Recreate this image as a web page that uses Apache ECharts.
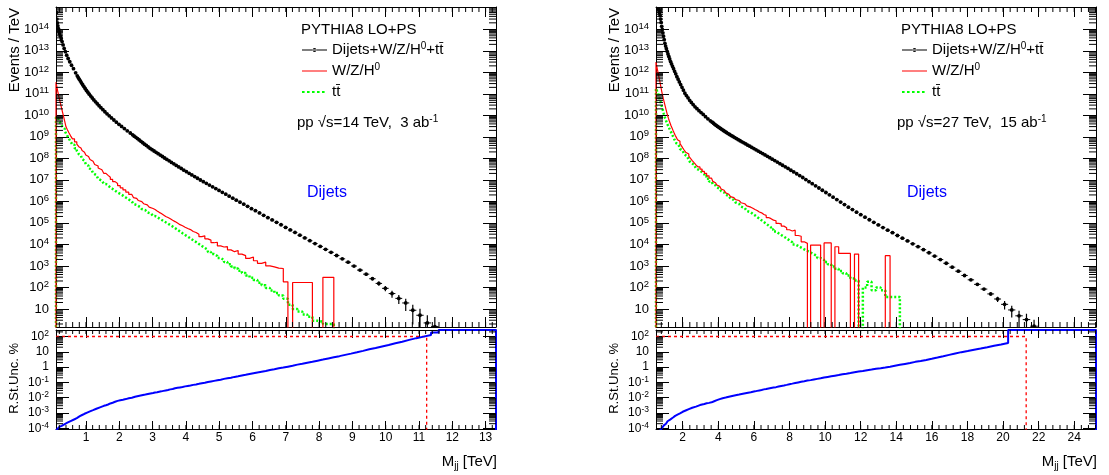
<!DOCTYPE html>
<html>
<head>
<meta charset="utf-8">
<title>Dijet invariant mass spectra</title>
<script src="https://cdn.jsdelivr.net/npm/echarts@6.0.0/dist/echarts.min.js"></script>
<style>
html, body { margin: 0; padding: 0; background: #fff; }
#chart { width: 1109px; height: 475px; }
</style>
</head>
<body>
<div id="chart"></div>
<script>
// ======================= DATA =======================
// Histograms use logarithmic bins (edge ratio 1.02). At low mass, where single
// bins are far below one pixel, several fine bins are read together.
// Binning definition: [first edge (TeV), edge ratio, [[fine bins, fine bins per drawn bin], ...]]
const binning14 = [0.1, 1.02, [[100, 5], [60, 2], [87, 1]]];
const binning27 = [0.5, 1.02, [[100, 2], [98, 1]]];

// ---- pp, sqrt(s)=14 TeV, 3 ab^-1 ----  (Events / TeV, one value per bin, from the first bin on)
const dijet14 = [1.3e15,6.0e14,3.0e14,2.0e14,1.45e14,1.08e14,8.05e13,6.2e13,4.8e13,3.66e13,2.7e13,1.88e13,1.3e13,9.1e12,6.3e12,4.4e12,3.1e12,2.14e12,1.48e12,9.5e11,
6.9e11,5.7e11,4.75e11,3.93e11,3.23e11,2.65e11,2.17e11,1.77e11,1.45e11,1.19e11,9.7e10,7.9e10,6.4e10,5.2e10,4.26e10,3.46e10,2.8e10,2.27e10,1.83e10,1.47e10,1.18e10,9.5e9,7.6e9,6.1e9,4.84e9,3.85e9,3.06e9,2.43e9,1.91e9,1.51e9,
1.24e9,1.08e9,9.5e8,8.3e8,7.2e8,6.2e8,5.4e8,4.6e8,4.0e8,3.4e8,2.9e8,2.54e8,2.2e8,1.91e8,1.65e8,1.42e8,1.22e8,1.04e8,8.9e7,7.7e7,
6.5e7,5.6e7,4.7e7,4.0e7,3.4e7,2.84e7,2.4e7,2.02e7,1.7e7,1.43e7,1.19e7,9.9e6,8.3e6,6.9e6,5.75e6,4.77e6,3.94e6,3.23e6,2.65e6,2.16e6,
1.75e6,1.42e6,1.14e6,9.2e5,7.4e5,5.9e5,4.6e5,3.7e5,2.9e5,2.25e5,1.76e5,1.37e5,1.07e5,8.2e4,6.2e4,4.7e4,3.6e4,2.68e4,2.0e4,1.49e4,
1.1e4,8.1e3,5.9e3,4.3e3,3.05e3,2.14e3,1.49e3,990,640,415,255,154,91,52,31,19,8.7,5.1,2.24,1.51];
// statistical error bars of the last dijet points (Events / TeV)
const dijetTailErr14 = [160,135,113,92,74,60,45,34,25,19,14,11,6.8,5.0,2.8,2.7];
const wzh14 = [3.5e11,2.8e11,2.24e11,1.78e11,1.38e11,1.07e11,7.9e10,6.0e10,4.4e10,3.1e10,2.1e10,1.38e10,8.7e9,5.2e9,2.95e9,2.14e9,1.55e9,1.12e9,8.1e8,5.9e8,
4.6e8,4.0e8,3.5e8,3.0e8,2.6e8,2.3e8,1.95e8,1.66e8,1.45e8,1.23e8,1.05e8,8.9e7,7.4e7,6.3e7,5.2e7,4.4e7,3.55e7,2.95e7,2.45e7,2.0e7,1.62e7,1.32e7,1.05e7,8.3e6,6.8e6,5.4e6,4.3e6,3.4e6,2.7e6,2.1e6,
1.7e6,1.51e6,1.38e6,1.23e6,1.1e6,9.8e5,8.7e5,7.8e5,6.9e5,6.0e5,5.4e5,4.7e5,4.2e5,3.6e5,3.1e5,2.75e5,2.35e5,2.0e5,1.78e5,1.55e5,
1.32e5,1.15e5,9.8e4,8.3e4,7.4e4,6.3e4,5.5e4,4.9e4,4.0e4,3.6e4,2.95e4,2.3e4,2.5e4,1.82e4,1.58e4,1.2e4,1.26e4,8.5e3,7.6e3,7.9e3,
5.6e3,4.6e3,5.2e3,3.55e3,3.0e3,2.24e3,2.6e3,1.74e3,1.32e3,1.51e3,1.0e3,910,790,760,182,0,170,170,170,170,0,0,295,295];
const ttbar14 = [8.3e9,8.1e9,7.9e9,7.8e9,7.4e9,7.1e9,6.3e9,5.5e9,4.8e9,4.1e9,3.5e9,2.9e9,2.35e9,1.86e9,1.45e9,1.1e9,8.3e8,6.0e8,4.3e8,2.95e8,
2.24e8,1.9e8,1.58e8,1.35e8,1.12e8,9.3e7,7.8e7,6.5e7,5.4e7,4.5e7,3.6e7,3.0e7,2.45e7,2.04e7,1.66e7,1.35e7,1.12e7,9.1e6,7.8e6,6.5e6,5.4e6,4.5e6,3.8e6,3.16e6,2.6e6,2.24e6,1.86e6,1.51e6,1.23e6,1.0e6,
8.5e5,7.6e5,6.8e5,6.2e5,5.5e5,4.9e5,4.4e5,3.9e5,3.5e5,3.1e5,2.7e5,2.4e5,2.1e5,1.86e5,1.62e5,1.41e5,1.23e5,1.07e5,9.3e4,7.9e4,
6.8e4,5.75e4,4.8e4,4.0e4,3.3e4,2.75e4,2.3e4,1.9e4,1.55e4,1.29e4,1.05e4,8.5e3,6.9e3,5.6e3,4.5e3,3.55e3,2.9e3,2.34e3,1.9e3,1.51e3,
1.2e3,950,760,600,470,360,280,220,166,126,95,72,55,42,30,15.8,10,7.6,5.6,4.3,2.8,2.6,2.0,2.0];
// relative statistical uncertainty, % (266 = above the frame)
const relStatUnc14 = [6.3e-5,7.1e-5,7.9e-5,8.7e-5,9.5e-5,1.05e-4,1.12e-4,1.23e-4,1.32e-4,1.45e-4,1.58e-4,1.74e-4,1.9e-4,2.1e-4,2.35e-4,2.6e-4,2.95e-4,3.4e-4,3.9e-4,4.6e-4,
5.2e-4,5.6e-4,6.2e-4,6.8e-4,7.4e-4,8.1e-4,8.9e-4,9.8e-4,1.07e-3,1.17e-3,1.29e-3,1.41e-3,1.55e-3,1.7e-3,1.9e-3,2.1e-3,2.35e-3,2.6e-3,2.95e-3,3.2e-3,3.6e-3,4.2e-3,4.7e-3,5.4e-3,6.2e-3,6.8e-3,7.4e-3,8.1e-3,9.1e-3,1.0e-2,
1.1e-2,1.15e-2,1.23e-2,1.29e-2,1.35e-2,1.45e-2,1.51e-2,1.62e-2,1.7e-2,1.82e-2,1.9e-2,2.04e-2,2.2e-2,2.3e-2,2.45e-2,2.6e-2,2.8e-2,3.0e-2,3.2e-2,3.5e-2,
3.7e-2,4.1e-2,4.4e-2,4.7e-2,5.0e-2,5.5e-2,5.9e-2,6.3e-2,6.9e-2,7.4e-2,8.1e-2,8.9e-2,9.5e-2,0.105,0.115,0.126,0.138,0.151,0.17,0.186,
0.204,0.229,0.251,0.282,0.316,0.355,0.398,0.447,0.5,0.56,0.65,0.72,0.83,0.93,1.07,1.23,1.45,1.66,1.95,2.24,
2.63,3.1,3.7,4.4,5.2,6.3,7.6,9.3,11.5,14.5,17.8,22.4,28,36,46,60,78,98,126,182,266,266,266,266,266,266,266];
const massCut14 = 11.23;

// ---- pp, sqrt(s)=27 TeV, 15 ab^-1 ----
const dijet27 = [3.0e15,2.6e15,2.0e15,1.58e15,1.26e15,1.05e15,8.9e14,7.6e14,5.8e14,4.3e14,3.0e14,2.1e14,1.38e14,9.8e13,6.9e13,4.8e13,3.3e13,2.24e13,1.66e13,1.26e13,
9.5e12,7.2e12,5.5e12,4.2e12,3.16e12,2.45e12,1.91e12,1.48e12,1.12e12,8.5e11,6.3e11,4.8e11,3.6e11,2.7e11,2.0e11,1.48e11,1.07e11,8.3e10,6.5e10,5.0e10,
4.0e10,3.16e10,2.5e10,2.04e10,1.66e10,1.35e10,1.1e10,8.7e9,6.9e9,5.6e9,
4.8e9,4.3e9,3.8e9,3.4e9,3.05e9,2.74e9,2.46e9,2.21e9,1.98e9,1.78e9,1.6e9,1.43e9,1.29e9,1.15e9,1.04e9,9.3e8,8.3e8,7.4e8,6.6e8,5.9e8,
5.3e8,4.7e8,4.1e8,3.7e8,3.24e8,2.85e8,2.5e8,2.19e8,1.91e8,1.67e8,1.45e8,1.25e8,1.08e8,9.2e7,7.9e7,6.7e7,5.7e7,4.8e7,4.06e7,3.4e7,
2.8e7,2.34e7,1.93e7,1.58e7,1.29e7,1.04e7,8.3e6,6.7e6,5.3e6,4.2e6,3.3e6,2.6e6,2.02e6,1.57e6,1.21e6,9.3e5,7.1e5,5.4e5,4.15e5,3.16e5,
2.41e5,1.84e5,1.4e5,1.06e5,8.1e4,6.1e4,4.6e4,3.5e4,2.6e4,1.95e4,1.45e4,1.07e4,7.9e3,5.7e3,4.1e3,2.86e3,1.97e3,1.33e3,880,570,
360,226,139,84,50,29,16.4,9.0,4.8,3.2,1.58];
const dijetTailErr27 = [10,9,8,7,5,3.5,2.8,1.6];
const wzh27 = [3.0e12,2.45e12,2.0e12,1.58e12,1.29e12,1.02e12,8.1e11,6.3e11,4.9e11,3.8e11,2.9e11,2.14e11,1.55e11,1.15e11,8.5e10,6.3e10,4.7e10,3.5e10,2.6e10,1.9e10,
1.38e10,1.0e10,7.4e9,5.6e9,4.3e9,3.3e9,2.6e9,2.0e9,1.55e9,1.2e9,9.5e8,7.4e8,6.2e8,4.9e8,3.9e8,3.1e8,2.45e8,1.95e8,1.58e8,1.26e8,
1.0e8,7.9e7,6.3e7,5.0e7,4.0e7,3.16e7,2.5e7,2.0e7,1.55e7,1.2e7,
9.8e6,8.5e6,7.4e6,6.5e6,5.75e6,5.0e6,4.4e6,3.8e6,3.3e6,2.9e6,2.5e6,2.14e6,1.86e6,1.66e6,1.51e6,1.35e6,1.2e6,1.1e6,9.8e5,8.7e5,
7.8e5,6.9e5,6.2e5,5.4e5,4.8e5,4.2e5,3.8e5,3.2e5,2.95e5,2.45e5,2.24e5,1.78e5,1.58e5,1.35e5,1.26e5,9.5e4,9.1e4,7.1e4,6.0e4,4.8e4,
4.2e4,4.6e4,2.6e4,2.4e4,1.32e4,1.12e4,0,9.3e3,9.3e3,9.3e3,0,1.17e4,1.17e4,0,7.8e3,3.8e3,3.8e3,3.8e3,0,3.55e3,0,0,0,0,0,0,3.0e3];
const ttbar27 = [1.78e11,1.58e11,1.45e11,1.32e11,1.2e11,1.1e11,9.5e10,7.9e10,6.6e10,5.5e10,4.6e10,3.7e10,3.0e10,2.45e10,1.95e10,1.51e10,1.15e10,8.7e9,7.1e9,5.75e9,
4.7e9,3.8e9,3.1e9,2.5e9,2.04e9,1.66e9,1.32e9,1.05e9,8.1e8,6.5e8,5.1e8,4.2e8,3.4e8,2.75e8,2.3e8,1.86e8,1.55e8,1.26e8,1.02e8,8.3e7,
6.3e7,5.1e7,4.2e7,3.4e7,2.75e7,2.24e7,1.82e7,1.45e7,1.12e7,8.5e6,
7.1e6,6.3e6,5.6e6,5.0e6,4.5e6,3.9e6,3.5e6,3.0e6,2.6e6,2.34e6,2.04e6,1.78e6,1.55e6,1.35e6,1.17e6,1.02e6,8.9e5,7.6e5,6.6e5,5.75e5,
4.9e5,4.3e5,3.6e5,3.1e5,2.6e5,2.24e5,1.86e5,1.58e5,1.32e5,1.1e5,9.1e4,7.6e4,6.2e4,5.0e4,4.0e4,3.3e4,2.75e4,2.3e4,1.9e4,1.55e4,
1.26e4,1.0e4,8.5e3,7.1e3,5.9e3,5.0e3,4.2e3,3.5e3,2.9e3,2.34e3,1.9e3,1.51e3,1.2e3,950,740,575,457,355,263,209,0,100,182,74,100,74,36,36,36];
const relStatUnc27 = [2.5e-5,2.8e-5,3.2e-5,3.5e-5,4.0e-5,4.5e-5,5.0e-5,5.6e-5,6.3e-5,6.9e-5,7.8e-5,8.5e-5,9.3e-5,1.05e-4,1.17e-4,1.35e-4,1.55e-4,1.78e-4,2.0e-4,2.24e-4,
2.5e-4,2.9e-4,3.2e-4,3.7e-4,4.1e-4,4.6e-4,5.1e-4,5.9e-4,6.5e-4,7.1e-4,7.8e-4,8.5e-4,9.5e-4,1.07e-3,1.2e-3,1.32e-3,1.45e-3,1.58e-3,1.78e-3,1.95e-3,
2.2e-3,2.4e-3,2.6e-3,2.95e-3,3.3e-3,3.6e-3,3.9e-3,4.3e-3,4.6e-3,5.0e-3,
5.5e-3,5.9e-3,6.3e-3,6.9e-3,7.4e-3,8.1e-3,8.7e-3,9.3e-3,9.8e-3,1.02e-2,1.1e-2,1.15e-2,1.23e-2,1.29e-2,1.38e-2,1.45e-2,1.55e-2,1.62e-2,1.7e-2,1.82e-2,
1.9e-2,2.04e-2,2.2e-2,2.3e-2,2.45e-2,2.6e-2,2.8e-2,3.0e-2,3.2e-2,3.5e-2,3.7e-2,4.0e-2,4.3e-2,4.6e-2,4.9e-2,5.4e-2,5.9e-2,6.3e-2,6.9e-2,7.6e-2,
8.3e-2,9.1e-2,0.1,0.11,0.12,0.132,0.141,0.155,0.17,0.186,0.209,0.229,0.251,0.275,0.30,0.34,0.37,0.41,0.46,0.51,
0.56,0.63,0.69,0.78,0.85,0.95,1.07,1.23,1.41,1.62,1.86,2.2,2.5,2.95,3.5,4.2,5.1,6.3,7.8,9.5,
11.2,13.5,16.2,20,25,30,38,266,266,266,266,266,266,266,266,266,266,266];
const massCut27 = 21.3;

// tick labels
const xTickLabels14 = [1,2,3,4,5,6,7,8,9,10,11,12,13];
const xTickLabels27 = [2,4,6,8,10,12,14,16,18,20,22,24];
const yTickLabelsTop = [1e1,1e2,1e3,1e4,1e5,1e6,1e7,1e8,1e9,1e10,1e11,1e12,1e13,1e14];
const yTickLabelsBottom = [1e-4,1e-3,1e-2,1e-1,1,1e1,1e2];

// ======================= LAYOUT / STYLE =======================
const FONT = '"Liberation Sans", Arial, Helvetica, sans-serif';
const PLOT_W = 440;
const TOP_Y = 7, TOP_H = 320, BOT_Y = 330, BOT_H = 99;
const TOP_RANGE = [1.45, 1.09e15];
const BOT_RANGE = [9e-5, 266];
const TINY_TOP = 1e-3, TINY_BOT = 1e-9;   // where empty bins drop to (below the frames)
const NAME_DIJET = 'Dijets+W/Z/H⁰+tt̄', NAME_WZH = 'W/Z/H⁰', NAME_TT = 'tt̄';

function logBinEdges(def) {
  const start = def[0], ratio = def[1], edges = [start];
  let k = 0;
  def[2].forEach(seg => { for (let j = 0; j < seg[0]; j += seg[1]) { k += seg[1]; edges.push(start * Math.pow(ratio, k)); } });
  return edges;
}
function stepTicks(from, to, step) {
  const out = [];
  for (let v = from; v <= to + 1e-9; v += step) out.push(Math.round(v * 1000) / 1000);
  return out;
}
function logMinorTicks(e0, e1) {
  const out = [];
  for (let e = e0; e <= e1; e++) for (let k = 2; k <= 9; k++) out.push(k * Math.pow(10, e));
  return out;
}
const edges14 = logBinEdges(binning14), edges27 = logBinEdges(binning27);
const PANELS = [
  { left: 56, xMin: edges14[0], xMax: edges14[edges14.length - 1], edges: edges14,
    dijet: dijet14, tailErr: dijetTailErr14, wzh: wzh14, tt: ttbar14, unc: relStatUnc14, cut: massCut14,
    xMajor: xTickLabels14, xMinor: stepTicks(0.2, 13.2, 0.2), energy: '14', lumi: '3' },
  { left: 656, xMin: edges27[0], xMax: edges27[edges27.length - 1], edges: edges27,
    dijet: dijet27, tailErr: dijetTailErr27, wzh: wzh27, tt: ttbar27, unc: relStatUnc27, cut: massCut27,
    xMajor: xTickLabels27, xMinor: stepTicks(0.8, 25.2, 0.4), energy: '27', lumi: '15' }
];

const lineCfg = { show: true, onZero: false, lineStyle: { color: '#000', width: 1 } };
function tickCfg(len, vals) {
  return { show: true, inside: true, length: len, customValues: vals, lineStyle: { color: '#000', width: 1 } };
}
function powerLabel(v) {
  const e = Math.round(Math.log10(v));
  if (e === 0) return '1';
  if (e === 1) return '10';
  return '10{sup|' + e + '}';
}

function histLine(edges, values, tiny) {
  const pts = [], val = v => (v > 0 ? v : tiny);
  pts.push([edges[0], tiny]);
  for (let i = 0; i < values.length; i++) pts.push([edges[i], val(values[i])]);
  const last = values.length - 1;
  pts.push([edges[last + 1], val(values[last])]);
  pts.push([edges[last + 1], tiny]);
  return pts;
}

const grid = [], xAxis = [], yAxis = [], series = [];
PANELS.forEach((p) => {
  [0, 1].forEach((sub) => {
    const gi = grid.length;
    grid.push({ left: p.left, top: sub ? BOT_Y : TOP_Y, width: PLOT_W, height: sub ? BOT_H : TOP_H });
    const xMajLen = sub ? 8 : 10, xMinLen = sub ? 4 : 5;
    const yMajLen = 13, yMinLen = 7;
    const range = sub ? BOT_RANGE : TOP_RANGE;
    const yMajVals = sub ? yTickLabelsBottom : yTickLabelsTop;
    const yMinVals = (sub ? logMinorTicks(-5, 2) : logMinorTicks(0, 15)).filter(v => v > range[0] && v < range[1]);

    const xi = xAxis.length;
    const xc = { type: 'value', gridIndex: gi, min: p.xMin, max: p.xMax, splitLine: { show: false } };
    xAxis.push(Object.assign({}, xc, { position: 'bottom', axisLine: lineCfg, axisTick: tickCfg(xMajLen, p.xMajor),
      axisLabel: sub ? { show: true, customValues: p.xMajor, fontFamily: FONT, fontSize: 12, color: '#000', margin: 3 } : { show: false } }));
    xAxis.push(Object.assign({}, xc, { position: 'top', axisLine: lineCfg, axisTick: tickCfg(xMajLen, p.xMajor), axisLabel: { show: false } }));

    const yi = yAxis.length;
    const yc = { type: 'log', logBase: 10, gridIndex: gi, min: range[0], max: range[1], splitLine: { show: false } };
    const fs = sub ? 12 : 13;
    yAxis.push(Object.assign({}, yc, { position: 'left', axisLine: lineCfg, axisTick: tickCfg(yMajLen, yMajVals),
      axisLabel: { show: true, customValues: yMajVals, formatter: powerLabel, fontFamily: FONT, fontSize: fs, lineHeight: fs + 3, color: '#000', margin: 7,
        rich: { sup: { fontFamily: FONT, fontSize: fs - 3.5, lineHeight: fs - 3, verticalAlign: 'top', color: '#000' } } } }));
    yAxis.push(Object.assign({}, yc, { position: 'right', axisLine: lineCfg, axisTick: tickCfg(yMajLen, yMajVals), axisLabel: { show: false } }));

    // minor ticks (log decades 2..9 on y, sub-divisions on x), drawn through the axes' scales
    const minorItems = p.xMinor.filter(v => v > p.xMin && v < p.xMax).map(v => [v, range[0], 0])
      .concat(yMinVals.map(v => [p.xMin, v, 1]));
    series.push({
      type: 'custom', name: 'minor ticks', xAxisIndex: xi, yAxisIndex: yi, silent: true, z: 6, clip: false,
      data: minorItems,
      renderItem: function (params, api) {
        const kind = api.value(2), st = { stroke: '#000', lineWidth: 1 };
        if (kind === 0) {
          const v = api.value(0);
          const b = api.coord([v, range[0]]), t = api.coord([v, range[1]]);
          return { type: 'group', children: [
            { type: 'line', shape: { x1: b[0], y1: b[1], x2: b[0], y2: b[1] - xMinLen }, style: st },
            { type: 'line', shape: { x1: t[0], y1: t[1], x2: t[0], y2: t[1] + xMinLen }, style: st }] };
        }
        const v = api.value(1);
        const l = api.coord([p.xMin, v]), r = api.coord([p.xMax, v]);
        return { type: 'group', children: [
          { type: 'line', shape: { x1: l[0], y1: l[1], x2: l[0] + yMinLen, y2: l[1] }, style: st },
          { type: 'line', shape: { x1: r[0], y1: r[1], x2: r[0] - yMinLen, y2: r[1] }, style: st }] };
      }
    });

    if (!sub) {
      series.push({
        type: 'line', name: NAME_TT, xAxisIndex: xi, yAxisIndex: yi, step: 'end', symbol: 'none', clip: true,
        lineStyle: { color: '#00ff00', width: 2.5, type: [2, 2] }, itemStyle: { color: '#00ff00' },
        data: histLine(p.edges, p.tt, TINY_TOP), z: 3
      });
      series.push({
        type: 'line', name: NAME_WZH, xAxisIndex: xi, yAxisIndex: yi, step: 'end', symbol: 'none', clip: true,
        lineStyle: { color: '#ff0000', width: 1.2 }, itemStyle: { color: '#ff0000' },
        data: histLine(p.edges, p.wzh, TINY_TOP), z: 4
      });
      const nErr = p.tailErr.length, n = p.dijet.length;
      series.push({
        type: 'custom', name: NAME_DIJET, xAxisIndex: xi, yAxisIndex: yi, clip: true, z: 5,
        itemStyle: { color: '#000' },
        data: p.dijet.map((v, i) => [(p.edges[i] + p.edges[i + 1]) / 2, v, p.edges[i], p.edges[i + 1],
          i >= n - nErr ? p.tailErr[i - (n - nErr)] : 0]),
        renderItem: function (params, api) {
          const x = api.value(0), y = api.value(1), lo = api.value(2), hi = api.value(3), e = api.value(4);
          const c = api.coord([x, y]);
          const l = api.coord([lo, y]), r = api.coord([hi, y]);
          const children = [
            { type: 'line', shape: { x1: l[0], y1: c[1], x2: r[0], y2: c[1] }, style: { stroke: '#000', lineWidth: 1 } },
            { type: 'circle', shape: { cx: c[0], cy: c[1], r: 1.9 }, style: { fill: '#000' } }
          ];
          if (e > 0) {
            const t = api.coord([x, y + e]);
            const b = api.coord([x, Math.max(y - e, TINY_TOP)]);
            children.push({ type: 'line', shape: { x1: c[0], y1: t[1], x2: c[0], y2: b[1] }, style: { stroke: '#000', lineWidth: 1.2 } });
          }
          return { type: 'group', children: children };
        }
      });
    } else {
      series.push({
        type: 'line', name: 'R.St.Unc. %', xAxisIndex: xi, yAxisIndex: yi, step: 'end', symbol: 'none', clip: true,
        lineStyle: { color: '#0000ff', width: 2 }, data: histLine(p.edges, p.unc, TINY_BOT), z: 4
      });
      series.push({
        type: 'line', name: '100% limit', xAxisIndex: xi, yAxisIndex: yi, symbol: 'none', clip: true,
        lineStyle: { color: '#ff0000', width: 1.3, type: [3, 3] },
        data: [[p.xMin, 100], [p.cut, 100], [p.cut, TINY_BOT]], z: 3
      });
    }
  });
});

const legendLabels = {};
legendLabels[NAME_DIJET] = 'Dijets+W/Z/H{sup|0}+tt\u0304';
legendLabels[NAME_WZH] = 'W/Z/H{sup|0}';
legendLabels[NAME_TT] = 'tt\u0304';
const BOX = 'M0,0h0.01v0.01z M25,10h-0.01v-0.01z ';
const dijetIcon = 'path://' + BOX + 'M0,4.45h25v1.1h-25z M10.6,5a1.9,1.9 0 1,0 3.8,0a1.9,1.9 0 1,0 -3.8,0z';
const wzhIcon = 'path://' + BOX + 'M0,4.45h25v1.1h-25z';
const ttIcon = 'path://' + BOX + 'M0,4h2.6v2h-2.6z M5,4h2.6v2h-2.6z M10,4h2.6v2h-2.6z M15,4h2.6v2h-2.6z M20,4h2.6v2h-2.6z';
const legend = PANELS.map(p => ({
  left: p.left + 246, top: 41, padding: 0, orient: 'vertical', itemWidth: 25, itemHeight: 10, itemGap: 3,
  selectedMode: false,
  data: [{ name: NAME_DIJET, icon: dijetIcon }, { name: NAME_WZH, icon: wzhIcon }, { name: NAME_TT, icon: ttIcon }],
  formatter: name => legendLabels[name],
  textStyle: { fontFamily: FONT, fontSize: 15, lineHeight: 18, color: '#000',
    rich: { sup: { fontFamily: FONT, fontSize: 10, lineHeight: 10, verticalAlign: 'top', color: '#000' } } }
}));

function txt(x, y, text, extra) {
  return { type: 'text', x: x, y: y, silent: true,
    style: Object.assign({ text: text, fontFamily: FONT, fontSize: 15, fill: '#000', align: 'left', verticalAlign: 'middle' }, extra || {}) };
}
const graphic = [];
PANELS.forEach((p, i) => {
  const dx = i * 600;
  graphic.push(txt(301 + dx, 30, 'PYTHIA8 LO+PS'));
  graphic.push(txt(297 + dx, 123, 'pp \u221As=' + p.energy + ' TeV,  ' + p.lumi + ' ab{sup|-1}',
    { rich: { sup: { fontFamily: FONT, fontSize: 10, lineHeight: 10, verticalAlign: 'top', fill: '#000' } }, lineHeight: 18 }));
  graphic.push(txt(307 + dx, 193, 'Dijets', { fill: '#0000ff', fontSize: 16 }));
  graphic.push(Object.assign(txt(15 + dx, 8, 'Events / TeV', { align: 'right', fontSize: 15 }), { rotation: Math.PI / 2 }));
  graphic.push(Object.assign(txt(14 + dx, 343, 'R.St.Unc. %', { align: 'right', fontSize: 13 }), { rotation: Math.PI / 2 }));
  graphic.push(txt(497 + dx, 462, 'M{sub|jj} [TeV]', { align: 'right', fontSize: 15, lineHeight: 18,
    rich: { sub: { fontFamily: FONT, fontSize: 10, lineHeight: 10, verticalAlign: 'bottom', fill: '#000' } } }));
});

const chart = echarts.init(document.getElementById('chart'), null, { renderer: 'canvas' });
chart.setOption({
  animation: false,
  backgroundColor: '#fff',
  grid: grid, xAxis: xAxis, yAxis: yAxis, series: series, legend: legend, graphic: graphic
});
</script>
</body>
</html>
